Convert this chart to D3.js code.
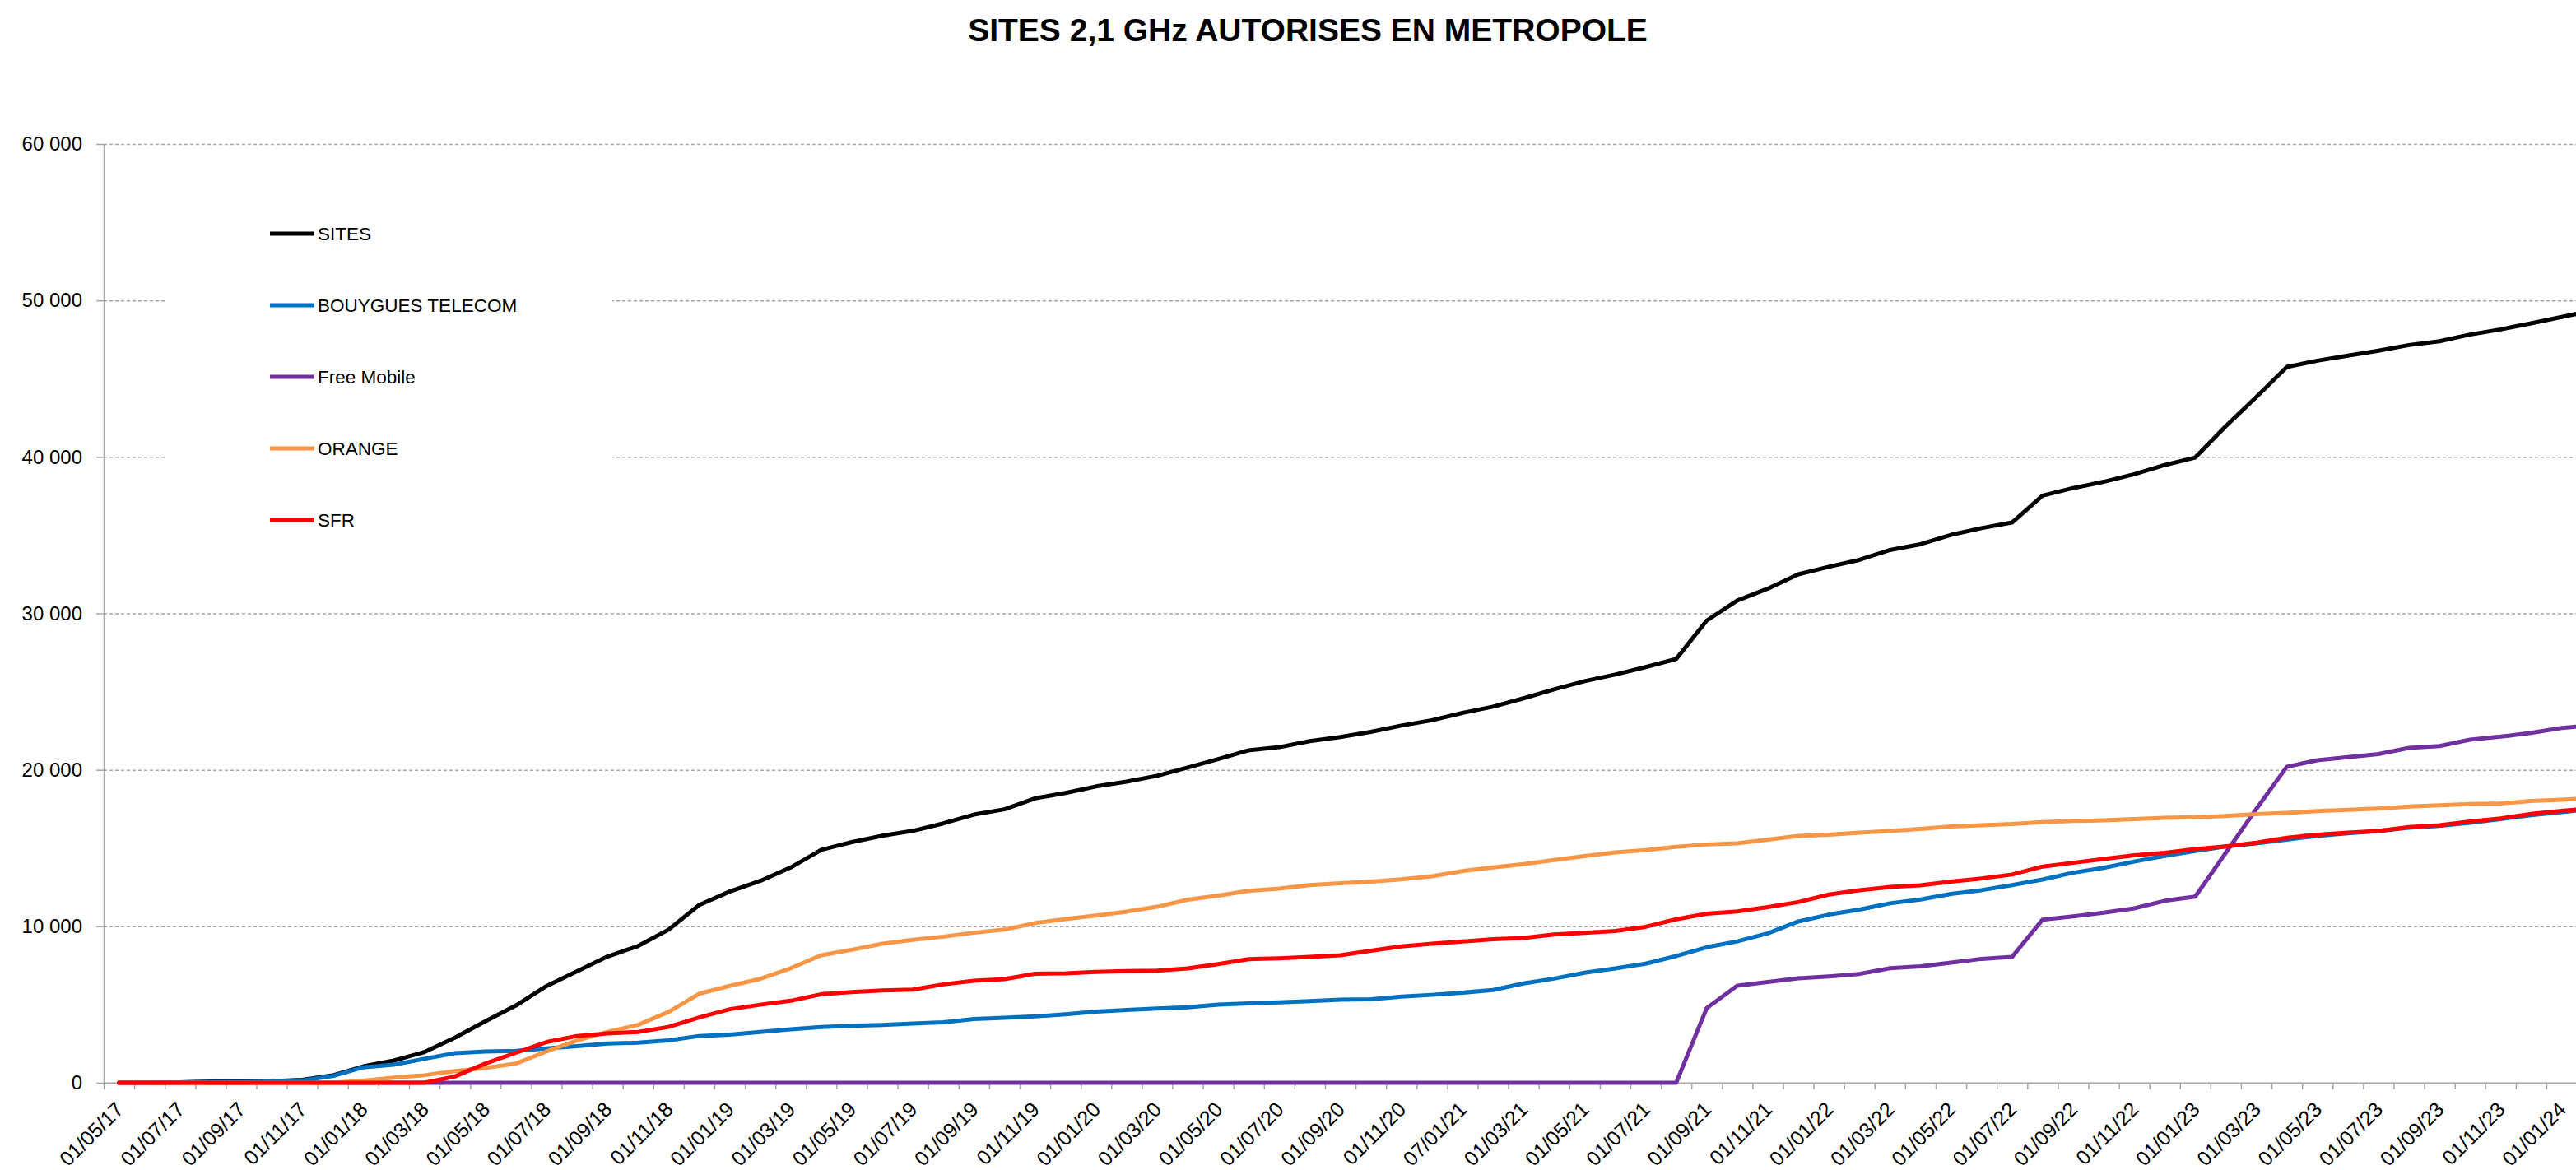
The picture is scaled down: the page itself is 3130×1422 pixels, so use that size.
<!DOCTYPE html>
<html>
<head>
<meta charset="utf-8">
<script src="https://cdn.jsdelivr.net/npm/d3@7"></script>
<style>
  body { margin: 0; background: #fff; }
  svg { display: block; font-family: "Liberation Sans", Arial, sans-serif; }
</style>
</head>
<body>
<svg width="3130" height="1422"></svg>
<script>
// months on the category axis (the 07/01/21 typo is in the original)
var months = ["01/05/17","01/06/17","01/07/17","01/08/17","01/09/17","01/10/17","01/11/17","01/12/17",
  "01/01/18","01/02/18","01/03/18","01/04/18","01/05/18","01/06/18","01/07/18","01/08/18","01/09/18","01/10/18","01/11/18","01/12/18",
  "01/01/19","01/02/19","01/03/19","01/04/19","01/05/19","01/06/19","01/07/19","01/08/19","01/09/19","01/10/19","01/11/19","01/12/19",
  "01/01/20","01/02/20","01/03/20","01/04/20","01/05/20","01/06/20","01/07/20","01/08/20","01/09/20","01/10/20","01/11/20","01/12/20",
  "07/01/21","01/02/21","01/03/21","01/04/21","01/05/21","01/06/21","01/07/21","01/08/21","01/09/21","01/10/21","01/11/21","01/12/21",
  "01/01/22","01/02/22","01/03/22","01/04/22","01/05/22","01/06/22","01/07/22","01/08/22","01/09/22","01/10/22","01/11/22","01/12/22",
  "01/01/23","01/02/23","01/03/23","01/04/23","01/05/23","01/06/23","01/07/23","01/08/23","01/09/23","01/10/23","01/11/23","01/12/23",
  "01/01/24","01/02/24"];

// only every second month gets a label
var tickLabels = months.filter(function(d, i) { return i % 2 === 0; });

var yTicks = [0, 10000, 20000, 30000, 40000, 50000, 60000];

var sites = [0,0,30,80,90,110,180,470,1050,1420,1960,2880,3930,4940,6180,7130,8070,8740,9790,11360,
  12220,12900,13760,14890,15380,15790,16100,16580,17140,17480,18180,18520,18940,19250,19620,20150,
  20690,21250,21450,21840,22100,22430,22830,23170,23640,24040,24570,25140,25670,26090,26570,27090,
  29540,30820,31580,32500,32980,33420,34050,34420,35020,35450,35810,37530,38010,38410,38890,39480,
  39960,41960,43830,45750,46150,46470,46790,47150,47390,47820,48150,48540,48940,49350];

var bouygues = [0,0,20,50,50,80,150,430,990,1160,1530,1890,2000,2040,2190,2340,2510,2560,2710,2990,
  3080,3250,3420,3560,3640,3700,3790,3870,4070,4150,4240,4380,4550,4660,4750,4830,5000,5080,5140,5220,
  5310,5340,5510,5620,5760,5930,6350,6660,7030,7310,7610,8100,8660,9040,9550,10310,10750,11070,11470,
  11710,12070,12310,12630,12990,13430,13740,14140,14500,14820,15100,15300,15540,15780,15940,16090,
  16300,16420,16620,16850,17100,17300,17500];

var free = [0,0,0,0,0,0,0,0,0,0,0,0,0,0,0,0,0,0,0,0,0,0,0,0,0,0,0,0,0,0,0,0,0,0,0,0,0,0,0,0,
  0,0,0,0,0,0,0,0,0,0,0,0,4770,6200,6440,6680,6800,6960,7320,7440,7680,7920,8040,10430,10630,10870,
  11150,11630,11900,14700,17500,20200,20610,20810,21010,21400,21520,21930,22120,22360,22680,22850];

var orange = [0,0,0,0,0,0,0,0,130,330,480,750,950,1230,2000,2700,3250,3700,4530,5690,6190,6640,7320,
  8150,8500,8890,9140,9340,9590,9790,10210,10460,10690,10940,11250,11700,11960,12270,12410,12630,12750,
  12860,13000,13200,13530,13760,13980,14240,14490,14720,14870,15080,15230,15300,15540,15780,15860,
  15980,16090,16220,16380,16460,16540,16660,16730,16770,16850,16930,16970,17050,17170,17250,17370,
  17450,17530,17650,17730,17810,17850,18010,18090,18200];

var sfr = [0,0,0,0,0,0,0,0,0,0,0,400,1230,1920,2600,2990,3160,3250,3570,4170,4700,4990,5240,5660,5800,
  5900,5960,6290,6520,6630,6970,7000,7080,7140,7170,7310,7590,7900,7960,8040,8150,8440,8720,8890,9030,
  9170,9250,9480,9590,9700,9970,10450,10810,10950,11230,11550,12030,12310,12510,12620,12860,13060,
  13310,13820,14060,14300,14540,14700,14940,15100,15340,15660,15860,15980,16090,16340,16460,16700,
  16900,17180,17380,17550];

var seriesNames = ["SITES", "BOUYGUES TELECOM", "Free Mobile", "ORANGE", "SFR"];
var seriesValues = [sites, bouygues, free, orange, sfr];
var seriesColors = ["#000000", "#0070c0", "#7030a0", "#f79646", "#ff0000"];

var svg = d3.select("svg");

// plot area: the right part runs past the picture edge, like the original
var plotLeft = 126, plotTop = 175, plotBottom = 1316, step = 37.1;
var plotRight = plotLeft + months.length * step;

var xScale = d3.scaleBand().domain(months).range([plotLeft, plotRight]).padding(0);
var xTicks = d3.scaleLinear().domain([0, months.length]).range([plotLeft, plotRight]);
var yScale = d3.scaleLinear().domain([0, 60000]).range([plotBottom, plotTop]);

var fr = d3.formatLocale({ decimal: ",", thousands: " ", grouping: [3], currency: ["", " €"] });
var fmt = fr.format(",d");

// title
svg.append("text")
  .attr("x", 1589)
  .attr("y", 50)
  .attr("text-anchor", "middle")
  .attr("font-size", "39px")
  .attr("font-weight", "bold")
  .text("SITES 2,1 GHz AUTORISES EN METROPOLE");

// dashed horizontal grid lines
svg.append("g")
  .attr("transform", "translate(" + plotLeft + ",0)")
  .call(d3.axisLeft(yScale).tickValues(yTicks.slice(1)).tickSize(-(3130 - plotLeft)).tickFormat(""))
  .call(function(g) { g.select(".domain").remove(); })
  .selectAll("line")
  .attr("stroke", "#a6a6a6")
  .attr("stroke-width", 1.5)
  .attr("stroke-dasharray", "4,3");

// y axis
var yAxis = svg.append("g")
  .attr("transform", "translate(" + plotLeft + ",0)")
  .call(d3.axisLeft(yScale).tickValues(yTicks).tickSize(9).tickPadding(17).tickSizeOuter(0).tickFormat(fmt));
yAxis.select(".domain").attr("stroke", "#a6a6a6").attr("stroke-width", 1.5);
yAxis.selectAll("line").attr("stroke", "#a6a6a6").attr("stroke-width", 1.5);
yAxis.selectAll("text").attr("font-size", "24px").attr("fill", "#000").attr("font-family", "Liberation Sans, Arial, sans-serif");

// x axis: tick marks between the months
var xAxisTicks = svg.append("g")
  .attr("transform", "translate(0," + plotBottom + ")")
  .call(d3.axisBottom(xTicks).tickValues(d3.range(0, months.length + 1)).tickSize(8).tickSizeOuter(0).tickFormat(""));
xAxisTicks.select(".domain").attr("stroke", "#a6a6a6").attr("stroke-width", 2);
xAxisTicks.selectAll("line").attr("stroke", "#a6a6a6").attr("stroke-width", 1.5);

// x axis labels, rotated
var xAxisLabels = svg.append("g")
  .attr("transform", "translate(0," + plotBottom + ")")
  .call(d3.axisBottom(xScale).tickValues(tickLabels).tickSize(0));
xAxisLabels.select(".domain").remove();
xAxisLabels.selectAll("text")
  .attr("x", 0)
  .attr("y", 0)
  .attr("dy", 0)
  .attr("text-anchor", "end")
  .attr("transform", "translate(7,34) rotate(-45)")
  .attr("font-size", "25px")
  .attr("fill", "#000")
  .attr("font-family", "Liberation Sans, Arial, sans-serif");

// the lines
var line = d3.line()
  .x(function(d, i) { return xScale(months[i]) + xScale.bandwidth() / 2; })
  .y(function(d) { return yScale(d); });

svg.append("g")
  .selectAll("path")
  .data(seriesValues)
  .enter().append("path")
  .attr("d", line)
  .attr("fill", "none")
  .attr("stroke", function(d, i) { return seriesColors[i]; })
  .attr("stroke-width", 5)
  .attr("stroke-linejoin", "round")
  .attr("stroke-linecap", "round");

// legend, on a white box that hides the grid
svg.append("rect")
  .attr("x", 202)
  .attr("y", 215)
  .attr("width", 542)
  .attr("height", 480)
  .attr("fill", "#fff");

var legend = svg.append("g")
  .selectAll("g")
  .data(seriesNames)
  .enter().append("g")
  .attr("transform", function(d, i) { return "translate(328," + (284 + i * 87) + ")"; });

legend.append("line")
  .attr("x1", 0)
  .attr("x2", 54)
  .attr("stroke", function(d, i) { return seriesColors[i]; })
  .attr("stroke-width", 5);

legend.append("text")
  .attr("x", 58)
  .attr("dy", "0.35em")
  .attr("font-size", "22.5px")
  .text(function(d) { return d; });
</script>
</body>
</html>
